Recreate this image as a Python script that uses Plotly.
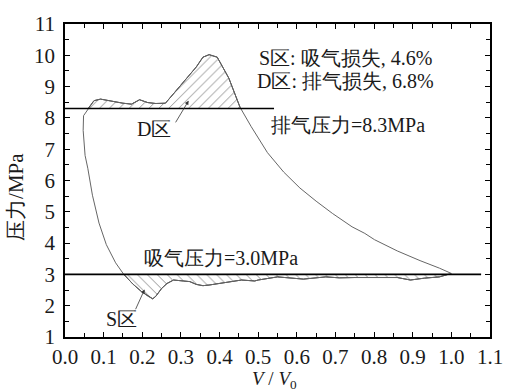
import numpy as np
import plotly.graph_objects as go

# ---- data (V/V0, pressure MPa) ----
comp_v = [1.0, 0.969, 0.919, 0.86, 0.801, 0.776, 0.743, 0.692, 0.65, 0.608, 0.566, 0.524, 0.482, 0.453, 0.424, 0.394, 0.373]
comp_p = [3.03, 3.2, 3.44, 3.75, 4.11, 4.31, 4.52, 4.95, 5.34, 5.76, 6.27, 6.89, 7.72, 8.34, 9.27, 9.94, 10.02]

disch_v = [0.357, 0.34, 0.30, 0.26, 0.235, 0.214, 0.193, 0.185, 0.172, 0.15, 0.13, 0.11, 0.092, 0.075, 0.063, 0.055]
disch_p = [9.94, 9.63, 9.05, 8.47, 8.46, 8.49, 8.58, 8.53, 8.44, 8.47, 8.52, 8.57, 8.6, 8.55, 8.35, 8.22]

reexp_v = [0.048, 0.047, 0.049, 0.052, 0.059, 0.071, 0.088, 0.107, 0.131, 0.151]
reexp_p = [8.07, 7.6, 7.26, 6.8, 6.39, 5.53, 4.64, 3.95, 3.37, 3.02]

suct_v = [0.175, 0.197, 0.215, 0.227, 0.235, 0.25, 0.264, 0.281, 0.306, 0.323, 0.34, 0.357, 0.373, 0.40, 0.424, 0.457,
          0.491, 0.5, 0.55, 0.585, 0.617, 0.675, 0.71, 0.75, 0.8, 0.86, 0.894, 0.93, 0.969, 1.0]
suct_p = [2.7, 2.46, 2.3, 2.22, 2.3, 2.55, 2.71, 2.82, 2.79, 2.77, 2.68, 2.64, 2.66, 2.71, 2.76, 2.82,
          2.79, 2.82, 2.92, 2.88, 2.85, 2.92, 2.89, 2.9, 2.89, 2.9, 2.82, 2.88, 2.92, 3.03]

discharge_level = 8.3
suction_level = 3.0

x_ticks = [round(0.1 * i, 1) for i in range(12)]
y_ticks = list(range(1, 12))

cyc_v = np.array(comp_v + disch_v + reexp_v + suct_v)
cyc_p = np.array(comp_p + disch_p + reexp_p + suct_p)


def region(vs, ps, level, above):
    """Polygon between curve and a level line where the curve lies on one side."""
    s = 1 if above else -1
    out_x, out_y = [], []
    for i in range(len(vs) - 1):
        x0, y0, x1, y1 = vs[i], ps[i], vs[i + 1], ps[i + 1]
        in0 = s * (y0 - level) >= 0
        in1 = s * (y1 - level) >= 0
        if in0:
            out_x.append(x0); out_y.append(y0)
        if in0 != in1:
            t = (level - y0) / (y1 - y0)
            out_x.append(x0 + t * (x1 - x0)); out_y.append(level)
    return out_x, out_y


serif = "Times New Roman, Liberation Serif, serif"
txt = "#1a1a1a"

fig = go.Figure()

dx, dy = region(list(comp_v + disch_v + reexp_v), list(comp_p + disch_p + reexp_p), discharge_level, True)
fig.add_trace(go.Scatter(x=dx, y=dy, mode="lines", fill="toself", line=dict(color="#222", width=1),
                         fillcolor="white",
                         fillpattern=dict(shape="/", size=7, solidity=0.14, fgcolor="#222", bgcolor="white"),
                         hoverinfo="skip", showlegend=False))

sx, sy = region(list(reexp_v + suct_v), list(reexp_p + suct_p), suction_level, False)
fig.add_trace(go.Scatter(x=sx, y=sy, mode="lines", fill="toself", line=dict(color="#222", width=1),
                         fillcolor="white",
                         fillpattern=dict(shape="\\", size=7, solidity=0.14, fgcolor="#222", bgcolor="white"),
                         hoverinfo="skip", showlegend=False))

fig.add_trace(go.Scatter(x=cyc_v, y=cyc_p, mode="lines", line=dict(color="#666", width=1),
                         showlegend=False))

fig.add_trace(go.Scatter(x=[0, 0.541], y=[discharge_level] * 2, mode="lines",
                         line=dict(color="black", width=1.6), showlegend=False))
fig.add_trace(go.Scatter(x=[0, 1.077], y=[suction_level] * 2, mode="lines",
                         line=dict(color="black", width=1.6), showlegend=False))

tf = dict(family=serif, size=20, color=txt)
ann = [
    dict(x=0.726, y=9.9, text="S区: 吸气损失, 4.6%"),
    dict(x=0.727, y=9.18, text="D区: 排气损失, 6.8%"),
    dict(x=0.732, y=7.78, text="排气压力=8.3MPa"),
    dict(x=0.405, y=3.54, text="吸气压力=3.0MPa"),
    dict(x=0.23, y=7.63, text="D区"),
    dict(x=0.147, y=1.59, text="S区"),
]
for a in ann:
    fig.add_annotation(xref="x", yref="y", showarrow=False, xanchor="center", yanchor="middle",
                       font=tf, **a)

for (tx, ty, hx, hy) in [(0.284, 7.81, 0.32, 8.55), (0.181, 1.84, 0.206, 2.52)]:
    fig.add_annotation(x=hx, y=hy, ax=tx, ay=ty, xref="x", yref="y", axref="x", ayref="y",
                       text="", showarrow=True, arrowhead=2, arrowsize=1, arrowwidth=0.8,
                       arrowcolor="#333")

fig.add_annotation(xref="paper", yref="paper", x=-0.114, y=0.446, text="压力/MPa", textangle=-90,
                   showarrow=False, xanchor="center", yanchor="middle", font=dict(family=serif, size=21, color=txt))
fig.add_annotation(xref="paper", yref="paper", x=0.492, y=-0.137, text="<i>V</i> / <i>V</i><sub>0</sub>",
                   showarrow=False, xanchor="center", yanchor="middle", font=dict(family=serif, size=19, color=txt))

axis_common = dict(showline=True, linewidth=1.5, linecolor="black", mirror="ticks", showgrid=False,
                   zeroline=False, ticks="inside", ticklen=5, tickwidth=1, tickcolor="black",
                   tickfont=dict(family=serif, size=21, color=txt))
fig.update_xaxes(range=[0, 1.1], tickvals=x_ticks, ticktext=[f"{v:.1f}" for v in x_ticks],
                 minor=dict(dtick=0.05, tick0=0, ticks="inside", ticklen=4, tickwidth=1, tickcolor="black"),
                 ticklabelstandoff=0, **axis_common)
fig.update_yaxes(range=[1, 11], tickvals=y_ticks, ticktext=[str(v) for v in y_ticks],
                 minor=dict(dtick=0.5, tick0=1, ticks="inside", ticklen=4, tickwidth=1, tickcolor="black"),
                 ticklabelstandoff=4, **axis_common)

fig.update_layout(width=515, height=391, margin=dict(l=65, r=13, t=14, b=54),
                  plot_bgcolor="white", paper_bgcolor="white", showlegend=False)

fig.write_html("out.html")
